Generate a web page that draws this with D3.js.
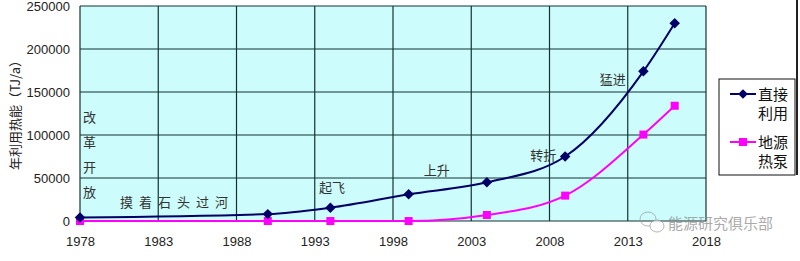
<!DOCTYPE html>
<html>
<head>
<meta charset="utf-8">
<script src="https://cdn.jsdelivr.net/npm/d3@7"></script>
<style>
  body { margin: 0; background: #fff; }
  svg { display: block; font-family: "Liberation Sans", Arial, sans-serif; }
</style>
</head>
<body>
<div id="chart"></div>
<script>
// данные
const years = [1978, 1990, 1994, 1999, 2004, 2009, 2014, 2016];
const directUse = [4000, 8000, 15500, 31000, 45000, 75000, 174000, 230000];
const heatPump = [0, 0, 0, 0, 7000, 29500, 100500, 134000];
const xTicks = [1978, 1983, 1988, 1993, 1998, 2003, 2008, 2013, 2018];
const yTicks = [0, 50000, 100000, 150000, 200000, 250000];
const seriesNames = [['直接', '利用'], ['地源', '热泵']];
const stageLabels = [
    { text: '起飞', year: 1994.1, value: 33500 },
    { text: '上升', year: 2000.8, value: 53000 },
    { text: '转折', year: 2007.6, value: 71000 },
    { text: '猛进', year: 2012.05, value: 159000 }
];

const W = 800, H = 261;
const svg = d3.select('#chart').append('svg').attr('width', W).attr('height', H);

const x = d3.scaleLinear().domain([1978, 2018]).range([80, 706]);
const y = d3.scaleLinear().domain([0, 250000]).range([221, 6]);

// фон области графика
svg.append('rect')
    .attr('x', x(1978)).attr('y', y(250000))
    .attr('width', x(2018) - x(1978)).attr('height', y(0) - y(250000))
    .attr('fill', '#ccfcfc');

// сетка
svg.append('g').selectAll('line').data(yTicks).enter().append('line')
    .attr('x1', x(1978)).attr('x2', x(2018))
    .attr('y1', d => y(d)).attr('y2', d => y(d))
    .attr('stroke', '#143232').attr('stroke-width', 1.2);
svg.append('g').selectAll('line').data(xTicks).enter().append('line')
    .attr('x1', d => x(d)).attr('x2', d => x(d))
    .attr('y1', y(0)).attr('y2', y(250000))
    .attr('stroke', '#143232').attr('stroke-width', 1.2);

// оси
const yAxis = svg.append('g').attr('transform', 'translate(' + x(1978) + ',0)')
    .call(d3.axisLeft(y).tickValues(yTicks).tickSize(0).tickPadding(10).tickFormat(d3.format('d')));
yAxis.select('.domain').remove();
yAxis.selectAll('text').attr('font-size', 13).attr('fill', '#222');

const xAxis = svg.append('g').attr('transform', 'translate(0,' + y(0) + ')')
    .call(d3.axisBottom(x).tickValues(xTicks).tickSize(0).tickPadding(16).tickFormat(d3.format('d')));
xAxis.select('.domain').remove();
xAxis.selectAll('text').attr('font-size', 13).attr('fill', '#222');

svg.append('text')
    .attr('transform', 'translate(20,112) rotate(-90)')
    .attr('text-anchor', 'middle')
    .attr('font-size', 13).attr('fill', '#222')
    .attr('font-family', '"Noto Sans CJK SC", sans-serif')
    .text('年利用热能（TJ/a）');

// линии
const line = (vals) => d3.line()
    .x((d, i) => x(years[i]))
    .y(d => y(d))
    .curve(d3.curveMonotoneX)(vals);

svg.append('path').attr('d', line(heatPump))
    .attr('fill', 'none').attr('stroke', '#ff00ff').attr('stroke-width', 2);
svg.append('path').attr('d', line(directUse))
    .attr('fill', 'none').attr('stroke', '#000066').attr('stroke-width', 2);

// маркеры
svg.append('g').selectAll('rect').data(heatPump).enter().append('rect')
    .attr('x', (d, i) => x(years[i]) - 4).attr('y', d => y(d) - 4)
    .attr('width', 8).attr('height', 8).attr('fill', '#ff00ff');
svg.append('g').selectAll('path').data(directUse).enter().append('path')
    .attr('d', d3.symbol().type(d3.symbolDiamond2).size(70))
    .attr('transform', (d, i) => 'translate(' + x(years[i]) + ',' + y(d) + ')')
    .attr('fill', '#000066');

// подписи этапов
const cjk = '"Noto Sans CJK SC", sans-serif';
svg.append('g').selectAll('text').data(['改', '革', '开', '放']).enter().append('text')
    .attr('x', 83).attr('y', (d, i) => 122 + i * 25)
    .attr('font-size', 13).attr('font-family', cjk).attr('fill', '#333')
    .text(d => d);
svg.append('g').selectAll('text').data(['摸', '着', '石', '头', '过', '河']).enter().append('text')
    .attr('x', (d, i) => 120 + i * 19).attr('y', 207)
    .attr('font-size', 13).attr('font-family', cjk).attr('fill', '#333')
    .text(d => d);
svg.append('g').selectAll('text').data(stageLabels).enter().append('text')
    .attr('x', d => x(d.year)).attr('y', d => y(d.value))
    .attr('text-anchor', 'middle')
    .attr('font-size', 13).attr('font-family', cjk).attr('fill', '#333')
    .text(d => d.text);

// легенда
const legend = svg.append('g');
legend.append('rect')
    .attr('x', 719).attr('y', 79).attr('width', 76).attr('height', 96)
    .attr('fill', '#fff').attr('stroke', '#111').attr('stroke-width', 1);
const colors = ['#000066', '#ff00ff'];
seriesNames.forEach((names, k) => {
    const cy = 94 + k * 48;
    legend.append('line')
        .attr('x1', 730).attr('x2', 756).attr('y1', cy).attr('y2', cy)
        .attr('stroke', colors[k]).attr('stroke-width', 2);
    if (k === 0) {
        legend.append('path')
            .attr('d', d3.symbol().type(d3.symbolDiamond2).size(60))
            .attr('transform', 'translate(743,' + cy + ')').attr('fill', colors[k]);
    } else {
        legend.append('rect')
            .attr('x', 739).attr('y', cy - 4).attr('width', 8).attr('height', 8).attr('fill', colors[k]);
    }
    names.forEach((t, j) => {
        legend.append('text')
            .attr('x', 758).attr('y', cy + 6 + j * 19)
            .attr('font-size', 15).attr('font-family', cjk).attr('fill', '#111')
            .text(t);
    });
});

// рамка справа
svg.append('line').attr('x1', 797).attr('x2', 797).attr('y1', 0).attr('y2', 175)
    .attr('stroke', '#222').attr('stroke-width', 2);

// водяной знак
const wm = svg.append('g').attr('opacity', 0.7);
wm.append('ellipse').attr('cx', 648).attr('cy', 219).attr('rx', 8).attr('ry', 7)
    .attr('fill', 'none').attr('stroke', '#999');
wm.append('ellipse').attr('cx', 657).attr('cy', 226).attr('rx', 7).attr('ry', 6)
    .attr('fill', '#fff').attr('stroke', '#999');
wm.append('text').attr('x', 668).attr('y', 229)
    .attr('font-size', 15).attr('font-family', cjk).attr('fill', '#888')
    .text('能源研究俱乐部');
</script>
</body>
</html>
